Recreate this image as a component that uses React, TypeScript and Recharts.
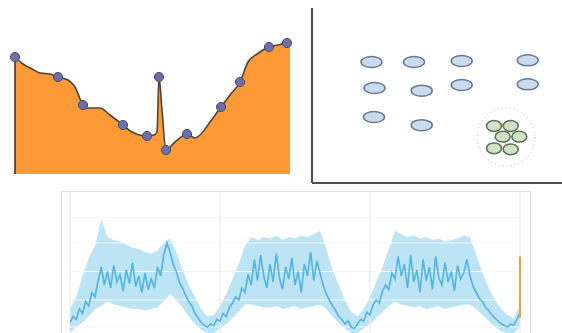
import React from 'react';
import {
  AreaChart, Area, XAxis, YAxis, ReferenceLine, ScatterChart, Scatter, ReferenceDot,
  ComposedChart, Line,
} from 'recharts';

// ---------- Panel 1: elevation-like profile ----------
const profileX = [0, 8, 17, 25, 35, 43, 53, 60, 68, 72, 85, 95, 108, 117, 132, 139, 142, 144, 147, 151, 160, 172, 180, 185, 195, 206, 215, 225, 233, 242, 254, 263, 272, 275];
const profileY = [117, 110, 105, 101, 100, 97, 94, 87, 69, 66, 66, 59, 49, 42, 38, 39, 42, 97, 64, 24, 32, 40, 36, 39, 52, 67, 79, 92, 112, 120, 127, 129, 131, 130];
const profileMarker = [1, 0, 0, 0, 0, 1, 0, 0, 1, 0, 0, 0, 1, 0, 1, 0, 0, 1, 0, 1, 0, 1, 0, 0, 0, 1, 0, 1, 0, 0, 1, 0, 1, 0];

// ---------- Panel 2: cluster scatter ----------
const blueX = [59.5, 102, 149.7, 215.7, 62.5, 109.7, 149.7, 215.7, 62, 109.7];
const blueY = [121, 121, 122, 122.7, 95, 92.3, 98, 98.7, 66, 57.8];
const greenX = [182, 198.7, 190.7, 207.3, 182, 198.7];
const greenY = [57, 57, 46.3, 46.3, 34.7, 33.7];
const clusterCenter = { x: 194, y: 46 };

// ---------- Panel 3: 3-day time series with band ----------
const lineVals = [
  13, 17, 15, 22, 19, 27, 24, 33, 30, 41, 50, 38, 47, 36, 51, 40, 45, 34, 48, 39,
  53, 37, 44, 33, 46, 35, 42, 36, 50, 44, 58, 66, 60, 52, 47, 40, 36, 31, 27, 24,
  19, 16, 13, 11, 10, 12, 11, 15, 14, 19, 17, 23, 26, 30, 28, 36, 33, 45, 38, 55,
  41, 58, 44, 36, 52, 40, 59, 43, 35, 50, 42, 56, 38, 47, 33, 52, 44, 60, 41, 54,
  46, 38, 32, 28, 24, 21, 17, 15, 12, 14, 10, 9, 12, 15, 14, 20, 18, 25, 28, 26,
  34, 38, 35, 46, 42, 57, 44, 52, 36, 58, 40, 48, 33, 55, 41, 50, 35, 57, 43, 38,
  53, 40, 47, 34, 51, 42, 46, 55, 44, 37, 33, 29, 27, 23, 21, 18, 16, 14, 12, 11,
  10, 12, 11, 15, 20,
];
const bandHigh = [
  22, 30, 44, 56, 64, 82, 70, 68, 67, 65, 63, 62, 60, 59, 61, 66, 69, 60, 48, 38,
  30, 22, 17, 18, 24, 32, 42, 52, 64, 70, 68, 70, 69, 71, 68, 70, 69, 71, 70, 72,
  74, 62, 48, 38, 28, 20, 17, 22, 30, 40, 50, 62, 74, 72, 70, 71, 69, 70, 68, 69,
  67, 68, 69, 71, 70, 58, 46, 36, 28, 22, 18, 16, 24,
];
const bandLow = [
  6, 10, 13, 17, 22, 24, 27, 25, 24, 23, 22, 22, 21, 22, 23, 27, 32, 28, 23, 17,
  12, 8, 6, 6, 9, 12, 16, 20, 25, 25, 24, 23, 23, 24, 22, 23, 24, 22, 23, 24,
  25, 22, 17, 13, 9, 6, 6, 9, 12, 16, 20, 24, 27, 25, 24, 23, 24, 22, 23, 24,
  22, 23, 24, 25, 25, 22, 18, 14, 10, 7, 6, 6, 10,
];
const dayTicks = [0, 24, 48, 72];
const hGrid = [10, 28, 47, 66, 83];
const orangeSpan = [16, 57];

const profileData = profileX.map((x, i) => ({ x, y: profileY[i], m: profileMarker[i] }));
const blueData = blueX.map((x, i) => ({ x, y: blueY[i] }));
const greenData = greenX.map((x, i) => ({ x, y: greenY[i] }));
const lineData = lineVals.map((v, i) => ({ t: i / 2, v }));
const bandData = bandHigh.map((h, i) => ({ t: i, range: [bandLow[i], h] }));

const renderProfileDot = (props: any) => {
  const { cx, cy, payload, index } = props;
  if (!payload || !payload.m) return <g key={`d${index}`} />;
  return <circle key={`d${index}`} cx={cx} cy={cy} r={4.6} fill="#6b6fa6" stroke="#474b7c" strokeWidth={1} />;
};

const blueShape = (props: any) => (
  <ellipse cx={props.cx} cy={props.cy} rx={10.5} ry={5.5} fill="#c8dbf1" stroke="#6c7b90" strokeWidth={1.6} />
);
const greenShape = (props: any) => (
  <ellipse cx={props.cx} cy={props.cy} rx={7.5} ry={5.4} fill="#cfe2c4" stroke="#5d6e55" strokeWidth={1.5} />
);

export default function App() {
  return (
    <div style={{ position: 'fixed', left: 0, top: 0, width: 562, height: 333, overflow: 'hidden', background: '#ffffff' }}>
      {/* Panel 1 */}
      <div style={{ position: 'absolute', left: 5, top: 24 }}>
        <AreaChart width={295} height={150} data={profileData} margin={{ top: 10, right: 10, left: 10, bottom: 0 }}>
          <XAxis dataKey="x" type="number" domain={[0, 275]} hide />
          <YAxis type="number" domain={[0, 140]} hide />
          <Area
            type="monotone"
            dataKey="y"
            stroke="#4f4232"
            strokeWidth={1.6}
            fill="#fd9a35"
            fillOpacity={1}
            dot={renderProfileDot}
            activeDot={false}
            isAnimationActive={false}
          />
          <ReferenceLine segment={[{ x: 0, y: 0 }, { x: 0, y: profileY[0] }]} stroke="#3e3428" strokeWidth={1.6} />
        </AreaChart>
      </div>

      {/* Panel 2 */}
      <div style={{ position: 'absolute', left: 300, top: 0 }}>
        <ScatterChart width={262} height={190} margin={{ top: 8, right: 0, left: 9, bottom: 4 }}>
          <XAxis dataKey="x" type="number" domain={[0, 250]} tick={false} height={3} axisLine={{ stroke: '#505050', strokeWidth: 2.2 }} tickLine={false} />
          <YAxis dataKey="y" type="number" domain={[0, 175]} tick={false} width={3} axisLine={{ stroke: '#505050', strokeWidth: 2.2 }} tickLine={false} />
          <ReferenceDot x={clusterCenter.x} y={clusterCenter.y} r={29} fill="#ffffff" stroke="#b8b8b8" strokeWidth={1} strokeDasharray="1 3" />
          <Scatter data={blueData} shape={blueShape} isAnimationActive={false} />
          <Scatter data={greenData} shape={greenShape} isAnimationActive={false} />
        </ScatterChart>
      </div>

      {/* Panel 3 */}
      <div style={{ position: 'absolute', left: 61, top: 191, width: 470, height: 160, border: '1px solid #e0e0e0', boxSizing: 'border-box' }} />
      <div style={{ position: 'absolute', left: 61, top: 191 }}>
        <ComposedChart width={471} height={151} margin={{ top: 1, right: 12, left: 9, bottom: 0 }}>
          <XAxis dataKey="t" type="number" domain={[0, 72]} hide allowDataOverflow />
          <YAxis type="number" domain={[0, 100]} hide />
          {hGrid.map((g) => (
            <ReferenceLine key={`h${g}`} y={g} stroke="#f7f7f7" strokeWidth={1} />
          ))}
          {dayTicks.map((d) => (
            <ReferenceLine key={`v${d}`} x={d} stroke="#e6e6e6" strokeWidth={1} />
          ))}
          <Area
            data={bandData}
            dataKey="range"
            type="linear"
            stroke="none"
            fill="#bde4f5"
            fillOpacity={1}
            activeDot={false}
            isAnimationActive={false}
          />
          <Line
            data={lineData}
            dataKey="v"
            type="linear"
            stroke="#56b6e0"
            strokeWidth={1.7}
            dot={false}
            activeDot={false}
            isAnimationActive={false}
          />
          <ReferenceLine segment={[{ x: 72, y: orangeSpan[0] }, { x: 72, y: orangeSpan[1] }]} stroke="#eda33a" strokeWidth={2} />
        </ComposedChart>
      </div>
    </div>
  );
}
